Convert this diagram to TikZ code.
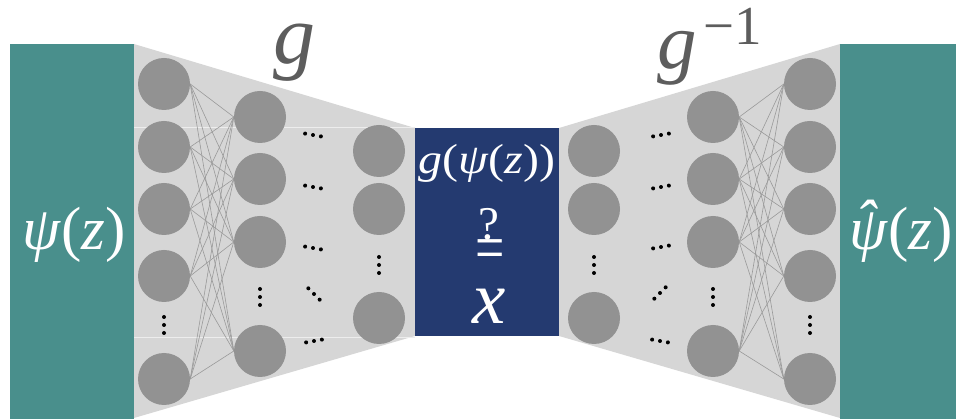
\documentclass[tikz,border=0pt]{standalone}
\usepackage{fontspec}
\setmainfont{Liberation Serif}
\definecolor{tealbox}{HTML}{498F8C}
\definecolor{navybox}{HTML}{243A70}
\definecolor{bggray}{HTML}{D6D6D6}
\definecolor{nodegray}{HTML}{929292}
\definecolor{linegray}{HTML}{9A9A9A}
\definecolor{labelgray}{HTML}{5D5D5D}
\newcommand{\hdotrow}[3]{%
  \begin{scope}[shift={(#1,#2)},rotate=#3]
    \fill[black] (-8,0) circle (2) (0,0) circle (2) (8,0) circle (2);
  \end{scope}}
\newcommand{\vdotcol}[2]{%
  \fill[black] (#1,#2-8) circle (2) (#1,#2) circle (2) (#1,#2+8) circle (2);}
\begin{document}
\begin{tikzpicture}[x=1pt,y=-1pt,
  neuron/.style={circle,fill=nodegray,minimum size=52pt,inner sep=0pt},
  conn/.style={draw=linegray,line width=0.6pt},
  boxstyle/.style={inner sep=0pt,anchor=north west},
  whitetext/.style={text=white,inner sep=0pt,anchor=base},
  gtext/.style={text=labelgray,inner sep=0pt,anchor=base}]
\useasboundingbox (0,0) rectangle (956,419);
% trapezoids
\fill[bggray] (134,44) -- (415,128) -- (415,336) -- (134,418) -- cycle;
\fill[bggray] (840,44) -- (559,128) -- (559,336) -- (840,418) -- cycle;
\draw[white!55!bggray,line width=0.8pt] (134,127) -- (415,127);
\draw[white!55!bggray,line width=0.8pt] (134,337) -- (415,337);
% boxes
\node[boxstyle,fill=tealbox,minimum width=124pt,minimum height=375pt] (inbox) at (10,44) {};
\node[boxstyle,fill=tealbox,minimum width=117pt,minimum height=375pt] (outbox) at (840,44) {};
\node[boxstyle,fill=navybox,minimum width=144pt,minimum height=208pt] (midbox) at (415,128) {};
% neurons
\foreach \y [count=\i] in {84,147,209,276,379} {
  \node[neuron] (La\i) at (164,\y) {};
  \node[neuron] (Rc\i) at (810,\y) {};
}
\foreach \y [count=\i] in {117,179,242,351} {
  \node[neuron] (Lb\i) at (260,\y) {};
  \node[neuron] (Rb\i) at (713,\y) {};
}
\foreach \y [count=\i] in {151,209,318} {
  \node[neuron] (Lc\i) at (379,\y) {};
  \node[neuron] (Ra\i) at (594,\y) {};
}
% connections
\foreach \i in {1,...,5} {
  \foreach \j in {1,...,4} {
    \draw[conn] (La\i.east) -- (Lb\j.west);
    \draw[conn] (Rb\j.east) -- (Rc\i.west);
  }
}
% dots
\vdotcol{164}{325}
\vdotcol{260}{297}
\vdotcol{379}{265}
\vdotcol{594}{265}
\vdotcol{713}{297}
\vdotcol{810}{325}
\hdotrow{313}{135}{-10}
\hdotrow{313}{187}{-10}
\hdotrow{313}{248}{-10}
\hdotrow{314}{294}{-45}
\hdotrow{314}{341}{10}
\hdotrow{661}{135}{10}
\hdotrow{661}{187}{10}
\hdotrow{661}{247}{10}
\hdotrow{660}{293}{45}
\hdotrow{660}{341}{-10}
% labels
\node[whitetext,font=\fontsize{61}{61}\selectfont] (psi) at (74,250) {\textit{ψ}(\textit{z})};
\node[whitetext,font=\fontsize{61}{61}\selectfont] (psihat) at (901,250)
  {\ooalign{\textit{ψ}\cr\hidewidth\raisebox{0.12em}{\textit{ˆ}}\hspace{0.05em}\hidewidth\cr}(\textit{z})};
\node[whitetext,font=\fontsize{42}{42}\selectfont] (gpsi) at (487,174)
  {\scalebox{1.14}[1]{\textit{g}(\textit{ψ}(\textit{z}))}};
\node[whitetext,font=\fontsize{47}{47}\selectfont] (qm) at (489,240) {?};
\node[whitetext,font=\fontsize{52}{52}\selectfont] (eq) at (490,271) {\scalebox{1}[1.3]{=}};
\node[whitetext,font=\fontsize{75}{75}\selectfont] (xlab) at (489,324) {\textit{x}};
\node[gtext,font=\fontsize{84}{84}\selectfont] (glab) at (294,64) {\textit{g}};
\node[gtext,font=\fontsize{79}{79}\selectfont] (ginv) at (677,69) {\textit{g}};
\node[gtext,font=\fontsize{55}{55}\selectfont,anchor=base west] (ginvexp) at (703,45) {−1};
\end{tikzpicture}
\end{document}
